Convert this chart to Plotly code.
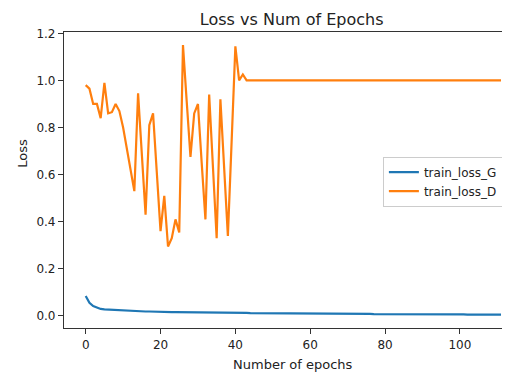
import plotly.graph_objects as go

epochs = list(range(112))

train_loss_G = [
    0.085, 0.056, 0.042, 0.036, 0.030, 0.028, 0.027, 0.026, 0.025, 0.024,
    0.023, 0.022, 0.022, 0.021, 0.020, 0.020, 0.019, 0.019, 0.018, 0.018,
    0.017, 0.017, 0.017, 0.016, 0.016, 0.016, 0.016, 0.015, 0.015, 0.015,
    0.015, 0.015, 0.015, 0.014, 0.014, 0.014, 0.014, 0.014, 0.013, 0.013,
    0.013, 0.013, 0.013, 0.013, 0.012, 0.012, 0.012, 0.012, 0.012, 0.012,
    0.011, 0.011, 0.011, 0.011, 0.011, 0.011, 0.010, 0.010, 0.010, 0.010,
    0.010, 0.010, 0.010, 0.010, 0.010, 0.009, 0.009, 0.009, 0.009, 0.009,
    0.009, 0.009, 0.009, 0.009, 0.009, 0.009, 0.009, 0.008, 0.008, 0.008,
    0.009, 0.010, 0.009, 0.008, 0.008, 0.008, 0.008, 0.008, 0.008, 0.008,
    0.008, 0.007, 0.007, 0.007, 0.007, 0.007, 0.007, 0.007, 0.007, 0.007,
    0.007, 0.007, 0.006, 0.006, 0.006, 0.006, 0.006, 0.006, 0.006, 0.006,
    0.006, 0.006,
]

train_loss_D = [
    0.980, 0.965, 0.900, 0.900, 0.840, 0.990, 0.860, 0.865, 0.900, 0.870,
    0.800, 0.710, 0.630, 0.530, 0.945, 0.690, 0.430, 0.810, 0.860, 0.610,
    0.360, 0.510, 0.295, 0.330, 0.410, 0.355, 1.150, 0.910, 0.675, 0.860,
    0.900, 0.650, 0.410, 0.940, 0.630, 0.330, 0.920, 0.630, 0.340, 0.740,
    1.145, 1.000, 1.025, 1.000, 1.000, 1.000, 1.000, 1.000, 1.000, 1.000,
    1.000, 1.000, 1.000, 1.000, 1.000, 1.000, 1.000, 1.000, 1.000, 1.000,
    1.000, 1.000, 1.000, 1.000, 1.000, 1.000, 1.000, 1.000, 1.000, 1.000,
    1.000, 1.000, 1.000, 1.000, 1.000, 1.000, 1.000, 1.000, 1.000, 0.999,
    0.999, 1.000, 1.000, 1.000, 1.000, 1.000, 1.000, 1.000, 1.000, 1.000,
    1.000, 1.000, 1.000, 1.000, 1.000, 1.000, 1.000, 1.000, 1.000, 1.000,
    1.000, 1.000, 1.000, 1.000, 1.000, 1.000, 1.000, 1.000, 1.000, 1.000,
    1.000, 1.000,
]

x_ticks = [0, 20, 40, 60, 80, 100]
y_ticks = [0.0, 0.2, 0.4, 0.6, 0.8, 1.0, 1.2]
y_tick_labels = ["0.0", "0.2", "0.4", "0.6", "0.8", "1.0", "1.2"]

FONT = "DejaVu Sans"
TXT = "#222222"

# The page body has an 8px default margin; size the figure so the
# plot area lands where the reference's axes are.
OFF = 8
W, H = 510 - OFF, 372 - OFF

fig = go.Figure()
fig.add_trace(go.Scatter(x=epochs, y=train_loss_G, mode="lines", name="train_loss_G",
                         line=dict(color="#1f77b4", width=2.2)))
fig.add_trace(go.Scatter(x=epochs, y=train_loss_D, mode="lines", name="train_loss_D",
                         line=dict(color="#ff7f0e", width=2.2)))

fig.update_layout(
    width=W, height=H,
    margin=dict(l=64 - OFF, r=0, t=32 - OFF, b=44),
    paper_bgcolor="white", plot_bgcolor="white",
    font=dict(family=FONT, size=12, color=TXT),
    title=dict(text="Loss vs Num of Epochs", font=dict(family=FONT, size=16, color=TXT),
               x=(291.7 - OFF) / W, xref="container", xanchor="center",
               y=1 - (19 - OFF) / H, yref="container", yanchor="middle"),
    showlegend=True,
    legend=dict(x=0.715, y=0.579, xanchor="left", yanchor="top",
                bgcolor="white", bordercolor="#cccccc", borderwidth=1,
                font=dict(family=FONT, size=12, color=TXT),
                itemwidth=30, tracegroupgap=0),
    xaxis=dict(range=[-5.8, 113.4], tickmode="array", tickvals=x_ticks,
               showgrid=False, zeroline=False, showline=True, linecolor="#333333",
               linewidth=1.2, mirror=True, ticks="outside", ticklen=5,
               tickcolor="#333333", tickfont=dict(family=FONT, size=12, color=TXT)),
    yaxis=dict(range=[-0.051, 1.2055], tickmode="array", tickvals=y_ticks,
               ticktext=y_tick_labels,
               showgrid=False, zeroline=False, showline=True, linecolor="#333333",
               linewidth=1.2, mirror=False, ticks="outside", ticklen=5,
               tickcolor="#333333", tickfont=dict(family=FONT, size=12, color=TXT)),
    annotations=[
        dict(text="Number of epochs", xref="paper", yref="paper",
             x=(292.5 - 64) / 446, y=(328 - 364) / 296, xanchor="center", yanchor="middle",
             showarrow=False, font=dict(family=FONT, size=13, color=TXT)),
        dict(text="Loss", xref="paper", yref="paper",
             x=(21.7 - 64) / 446, y=(328 - 153) / 296, xanchor="center", yanchor="middle",
             textangle=-90, showarrow=False, font=dict(family=FONT, size=13, color=TXT)),
    ],
)

fig.write_html("out.html")
